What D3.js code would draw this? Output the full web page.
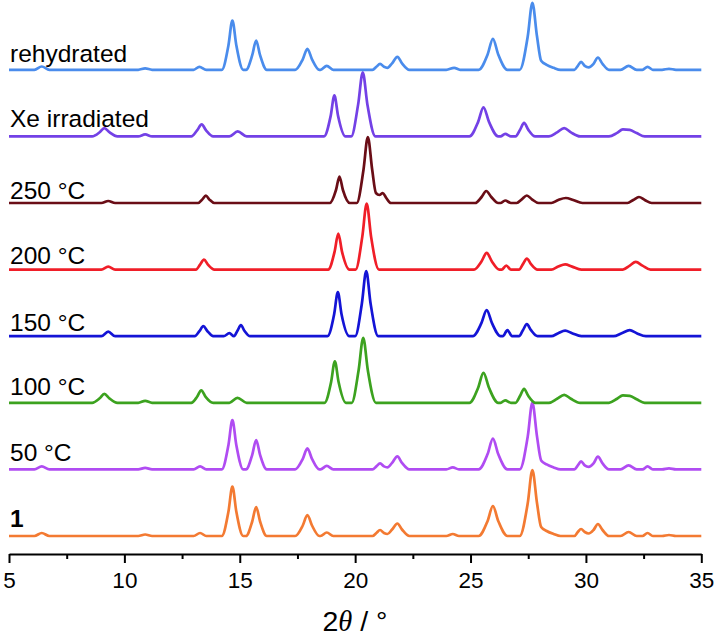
<!DOCTYPE html>
<html>
<head>
<meta charset="utf-8">
<script src="https://cdn.jsdelivr.net/npm/d3@7"></script>
<style>
  body { margin: 0; background: #fff; }
  svg { display: block; font-family: "Liberation Sans", Arial, sans-serif; }
</style>
</head>
<body>
<script>
// stacked PXRD patterns, listed bottom to top
const labels = ['1', '50 °C', '100 °C', '150 °C', '200 °C', '250 °C', 'Xe irradiated', 'rehydrated']
const colors = ['#f37a32', '#b04cf2', '#3ca21f', '#1414d6', '#f01e28', '#6a0d16', '#7341e6', '#4a8cec']
const offsets = [0, 66.6, 133.2, 199.8, 266.4, 333, 399.6, 466.2]
const xTicks = [5, 10, 15, 20, 25, 30, 35]
const xMinorTicks = [7.5, 12.5, 17.5, 22.5, 27.5, 32.5]

// [2theta, intensity]
const pattern1 = [[5,0],[6.1,0],[6.42,3],[6.75,0],[10.6,0],[10.9,1.5],[11.2,0],[13.0,0],[13.28,3],[13.55,0],
  [14.22,0],[14.51,24.5],[14.68,49.5],[14.85,24.5],[15.15,0],[15.27,0],[15.54,14.5],[15.71,29],[15.88,14.5],[16.17,0],
  [17.4,0],[17.73,10.5],[17.93,21],[18.13,10.5],[18.45,0],[18.5,0],[18.77,3.5],[19.05,0],
  [20.75,0],[20.92,3],[21.08,6],[21.25,3],[21.4,2],[21.6,6.5],[21.83,12.5],[22.03,6.5],[22.35,0],[23.95,0],[24.23,2],[24.5,0],
  [25.35,0],[25.74,15],[25.97,30],[26.2,15],[26.6,0],[27.13,0],[27.48,33],[27.68,66],[27.88,33],[28.06,9],[28.3,5],[28.6,2],[28.9,0],
  [29.5,0],[29.65,4],[29.79,7],[29.95,4],[30.12,2.5],[30.33,6],[30.52,12],[30.72,6],[31.0,0],
  [31.5,0],[31.85,4],[32.2,0],[32.45,0],[32.67,3],[32.9,0],[33.3,0],[33.6,1],[33.9,0],[35,0]]

const pattern50 = [[5,0],[6.1,0],[6.42,3],[6.75,0],[10.6,0],[10.9,1.5],[11.2,0],[13.0,0],[13.28,3],[13.55,0],
  [14.22,0],[14.51,24.5],[14.68,49.3],[14.85,24.5],[15.15,0],[15.27,0],[15.54,14.6],[15.71,29.3],[15.88,14.6],[16.17,0],
  [17.4,0],[17.73,10.5],[17.93,21],[18.13,10.5],[18.45,0],[18.5,0],[18.77,3.5],[19.05,0],
  [20.75,0],[20.92,3],[21.08,6],[21.25,3],[21.4,2],[21.6,6.5],[21.83,13],[22.03,6.5],[22.35,0],[23.95,0],[24.23,2],[24.5,0],
  [25.35,0],[25.74,15.3],[25.97,30.7],[26.2,15.3],[26.6,0],[27.13,0],[27.48,33],[27.68,66.7],[27.88,33],[28.06,9],[28.3,5],[28.6,2],[28.9,0],
  [29.5,0],[29.65,4],[29.79,8],[29.95,4],[30.12,2.5],[30.33,6],[30.52,12.7],[30.72,6],[31.0,0],
  [31.5,0],[31.85,4],[32.2,0],[32.45,0],[32.67,3],[32.9,0],[33.3,0],[33.6,1],[33.9,0],[35,0]]

const pattern100 = [[5,0],[8.6,0],[8.93,4.5],[9.13,9],[9.35,4.5],[9.7,0],[10.6,0],[10.9,2],[11.2,0],
  [12.9,0],[13.15,6],[13.33,12.5],[13.52,6],[13.85,0],[14.55,0],[14.9,5],[15.3,0],
  [18.67,0],[18.96,21],[19.12,41.5],[19.28,21],[19.6,0],[19.85,0],[20.15,32.5],[20.35,65],[20.55,32.5],[20.9,0],
  [24.95,0],[25.33,15],[25.56,30],[25.8,15],[26.2,0],[26.3,0],[26.5,2.5],[26.75,0],
  [26.95,0],[27.15,7],[27.32,14],[27.5,7],[27.8,0],[28.4,0],[28.75,4],[29.06,8],[29.35,4],[29.75,0],
  [31.0,0],[31.35,4],[31.6,7.5],[31.9,7],[32.2,3.5],[32.55,0],[35,0]]

const pattern150 = [[5,0],[9.0,0],[9.3,4.5],[9.6,0],
  [13.05,0],[13.25,5],[13.42,10],[13.6,5],[13.85,0],[14.3,0],[14.55,3],[14.75,0],[14.9,5.5],[15.05,11],[15.2,5.5],[15.45,0],
  [18.8,0],[19.09,22],[19.25,44],[19.41,22],[19.75,0],[20.0,0],[20.29,32.5],[20.48,65],[20.67,32.5],[21.0,0],
  [25.1,0],[25.47,13],[25.7,26],[25.93,13],[26.3,0],[26.4,0],[26.6,6],[26.8,0],
  [27.1,0],[27.27,6],[27.44,12],[27.62,6],[27.9,0],[28.5,0],[28.8,3],[29.1,5.5],[29.4,3],[29.8,0],
  [31.2,0],[31.55,3],[31.9,6],[32.2,3],[32.6,0],[35,0]]

const pattern200 = [[5,0],[9.0,0],[9.3,3],[9.6,0],
  [13.1,0],[13.28,5],[13.45,10],[13.62,5],[13.9,0],
  [18.83,0],[19.11,18],[19.27,36],[19.43,18],[19.75,0],[20.02,0],[20.31,33],[20.5,66],[20.69,33],[21.03,0],
  [25.15,0],[25.48,8.4],[25.7,16.7],[25.92,8.4],[26.25,0],[26.35,0],[26.55,4],[26.75,0],
  [27.1,0],[27.27,5.5],[27.44,11],[27.62,5.5],[27.9,0],[28.5,0],[28.8,3],[29.1,5.3],[29.4,3],[29.8,0],
  [31.6,0],[31.9,4],[32.16,7.7],[32.45,4],[32.8,0],[35,0]]

const pattern250 = [[5,0],[9.0,0],[9.3,2],[9.6,0],
  [13.2,0],[13.38,3.6],[13.53,7.3],[13.68,3.6],[13.9,0],
  [18.9,0],[19.17,13],[19.32,26.5],[19.47,13],[19.77,0],[20.07,0],[20.36,33],[20.55,66],[20.74,33],
  [20.9,10],[21.05,8],[21.2,10],[21.35,5],[21.55,0],
  [25.2,0],[25.48,6],[25.68,12],[25.9,6],[26.2,0],[26.3,0],[26.5,2.5],[26.75,0],
  [27.0,0],[27.22,3.7],[27.44,7.5],[27.66,3.7],[27.95,0],[28.5,0],[28.8,3],[29.13,5],[29.45,3],[29.85,0],
  [31.8,0],[32.05,3],[32.3,6],[32.55,3],[32.85,0],[35,0]]

const patternXe = [[5,0],[8.6,0],[8.93,4.2],[9.13,8.3],[9.35,4.2],[9.7,0],[10.6,0],[10.9,2],[11.2,0],
  [12.9,0],[13.15,6],[13.35,12],[13.54,6],[13.85,0],[14.55,0],[14.91,5],[15.3,0],
  [18.65,0],[18.94,20.5],[19.1,41],[19.26,20.5],[19.58,0],[19.83,0],[20.13,32],[20.33,64],[20.53,32],[20.88,0],
  [24.95,0],[25.33,14.5],[25.56,29],[25.8,14.5],[26.2,0],[26.3,0],[26.5,2.5],[26.75,0],
  [26.95,0],[27.15,6.8],[27.32,13.5],[27.5,6.8],[27.8,0],[28.4,0],[28.75,4],[29.06,8.3],[29.35,4],[29.75,0],
  [31.0,0],[31.35,3.5],[31.6,7],[31.9,6.5],[32.2,3.3],[32.55,0],[35,0]]

const patternRehyd = [[5,0],[6.1,0],[6.42,3.3],[6.75,0],[10.6,0],[10.9,1.5],[11.2,0],[13.0,0],[13.25,3],[13.55,0],
  [14.22,0],[14.51,24.6],[14.68,49.3],[14.85,24.6],[15.15,0],[15.27,0],[15.54,14.6],[15.71,29.3],[15.88,14.6],[16.17,0],
  [17.4,0],[17.73,10.5],[17.93,21],[18.13,10.5],[18.45,0],[18.5,0],[18.77,4],[19.05,0],
  [20.75,0],[20.92,3],[21.08,6],[21.25,3],[21.4,2],[21.6,6.5],[21.83,13],[22.03,6.5],[22.35,0],[23.95,0],[24.29,2],[24.55,0],
  [25.35,0],[25.74,15.3],[25.97,31],[26.2,15.3],[26.6,0],[27.13,0],[27.48,33.5],[27.68,67],[27.88,33.5],[28.06,9],[28.3,5],[28.6,2],[28.9,0],
  [29.5,0],[29.65,4],[29.79,8],[29.95,4],[30.12,2.5],[30.33,6],[30.52,12.3],[30.72,6],[31.0,0],
  [31.5,0],[31.85,4],[32.2,0],[32.45,0],[32.67,3],[32.9,0],[33.3,0],[33.6,1],[33.9,0],[35,0]]

const patterns = [pattern1, pattern50, pattern100, pattern150, pattern200, pattern250, patternXe, patternRehyd]

const width = 717
const height = 637
const axisY = 554

const svg = d3.select('body')
  .append('svg')
  .attr('width', width)
  .attr('height', height)

const xScale = d3.scaleLinear().domain([5, 35]).range([9, 701.3])
// intensity in plot units, 0 = baseline of the bottom pattern
const yScale = d3.scaleLinear().domain([0, 540]).range([536, -4])

const line = d3.line()
  .x(d => xScale(d[0]))
  .curve(d3.curveMonotoneX)

// traces
patterns.forEach((p, i) => {
  svg.append('path')
    .datum(p)
    .attr('fill', 'none')
    .attr('stroke', colors[i])
    .attr('stroke-width', 2.7)
    .attr('stroke-linejoin', 'round')
    .attr('d', line.y(d => yScale(d[1] + offsets[i])))
})

// labels sit just above each baseline
const labelLift = [9, 8, 8, 5, 6, 4, 9, 8]
svg.selectAll('text.label')
  .data(labels)
  .enter()
  .append('text')
  .attr('class', 'label')
  .attr('x', 10)
  .attr('y', (d, i) => yScale(offsets[i]) - labelLift[i])
  .attr('font-size', 24.5)
  .attr('font-weight', (d, i) => i === 0 ? 'bold' : 'normal')
  .attr('fill', '#000')
  .text(d => d)

// x axis
const xAxis = d3.axisBottom(xScale)
  .tickValues(xTicks)
  .tickSize(9)
  .tickSizeOuter(0)
  .tickPadding(9)

const gx = svg.append('g')
  .attr('transform', `translate(0,${axisY})`)
  .call(xAxis)
  .attr('font-family', '"Liberation Sans", Arial, sans-serif')
  .attr('font-size', 22.5)
gx.select('.domain').attr('stroke-width', 2)
gx.selectAll('.tick line').attr('stroke-width', 2)
gx.selectAll('.tick text').attr('fill', '#000')

const minorAxis = d3.axisBottom(xScale)
  .tickValues(xMinorTicks)
  .tickSize(5)
  .tickFormat('')

const gm = svg.append('g')
  .attr('transform', `translate(0,${axisY})`)
  .call(minorAxis)
gm.select('.domain').remove()
gm.selectAll('.tick line').attr('stroke-width', 2)

// axis title
const title = svg.append('text')
  .attr('x', 355)
  .attr('y', 631)
  .attr('text-anchor', 'middle')
  .attr('font-size', 28.5)
  .attr('fill', '#000')
title.append('tspan').text('2')
title.append('tspan').attr('font-style', 'italic').attr('font-family', '"Liberation Serif", serif').text('θ')
title.append('tspan').text(' / °')
</script>
</body>
</html>
